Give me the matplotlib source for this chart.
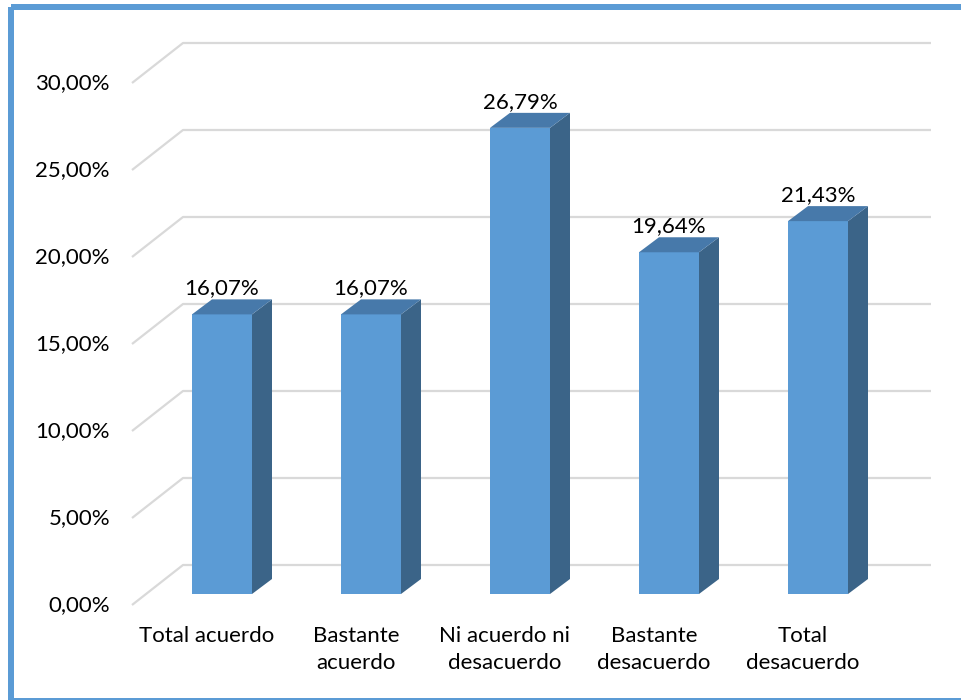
import matplotlib
matplotlib.use("Agg")
import matplotlib.pyplot as plt
from matplotlib.patches import Polygon, Rectangle

categories = ["Total acuerdo", "Bastante\nacuerdo", "Ni acuerdo ni\ndesacuerdo",
              "Bastante\ndesacuerdo", "Total\ndesacuerdo"]
values = [16.07, 16.07, 26.79, 19.64, 21.43]
value_labels = ["16,07%", "16,07%", "26,79%", "19,64%", "21,43%"]
yticks = [0, 5, 10, 15, 20, 25, 30]
ytick_labels = ["0,00%", "5,00%", "10,00%", "15,00%", "20,00%", "25,00%", "30,00%"]

plt.rcParams['font.family'] = ['Lato', 'DejaVu Sans']

W, H = 962, 700
fig = plt.figure(figsize=(W / 100, H / 100), dpi=100)
ax = fig.add_axes([0, 0, 1, 1])
ax.set_axis_off()

# pixel mapping helpers (for layout geometry only)
X0, XS = 222, 149.0     # px of first category, px per category
Y0, YS = 594, 17.4      # px of 0 %, px per 1 %
ax.set_xlim(-X0 / XS, (W - X0) / XS)
ax.set_ylim((Y0 - H) / YS, Y0 / YS)

def px(dx):
    return dx / XS

def py(dy):
    return dy / YS

FRONT = "#5B9BD5"
SIDE = "#3B6488"
TOP = "#4779AA"
GRID = "#D9D9D9"
FS = 16

# walls / gridlines
front_x = px(132 - X0)
back_x = px(183 - X0)
end_x = px(931 - X0)
front_dy = -py(11)
back_dy = py(29)
for v in yticks:
    ax.plot([front_x, back_x, end_x], [v + front_dy, v + back_dy, v + back_dy],
            color=GRID, lw=1.6, zorder=1, solid_capstyle='butt')
for v, lab in zip(yticks, ytick_labels):
    ax.text(px(110 - X0), v + front_dy, lab, ha='right', va='center',
            fontsize=FS, color='black')

# bars
bw = px(60)
DX, DY = px(20), py(15)
xs = list(range(len(values)))
ax.bar(xs, values, width=bw, color=FRONT, zorder=3)
for x, v, lab in zip(xs, values, value_labels):
    r = x + bw / 2
    l = x - bw / 2
    ax.add_patch(Polygon([(r, 0), (r + DX, DY), (r + DX, v + DY), (r, v)],
                         closed=True, facecolor=SIDE, edgecolor='none', zorder=3))
    ax.add_patch(Polygon([(l, v), (r, v), (r + DX, v + DY), (l + DX, v + DY)],
                         closed=True, facecolor=TOP, edgecolor='none', zorder=3))
    ax.text(x, v + py(26), lab, ha='center', va='center', fontsize=FS,
            color='black', zorder=4)

# category labels
for x, c in zip(xs, categories):
    ax.text(x - px(15), py(594 - 626), c, ha='center', va='top', fontsize=FS,
            linespacing=1.45, color='black')

# outer frame
fig.patches.append(Rectangle((11 / W, 1 - 7 / H), 2.0, -(700 - 7 + 1) / H,
                             transform=fig.transFigure, fill=False,
                             edgecolor=FRONT, lw=6 * 0.72, zorder=10))
# bottom border line
fig.add_artist(plt.Line2D([11 / W, 1], [1.5 / H, 1.5 / H], transform=fig.transFigure,
                          color=FRONT, lw=3 * 0.72))

fig.savefig("out.png", dpi=100)
